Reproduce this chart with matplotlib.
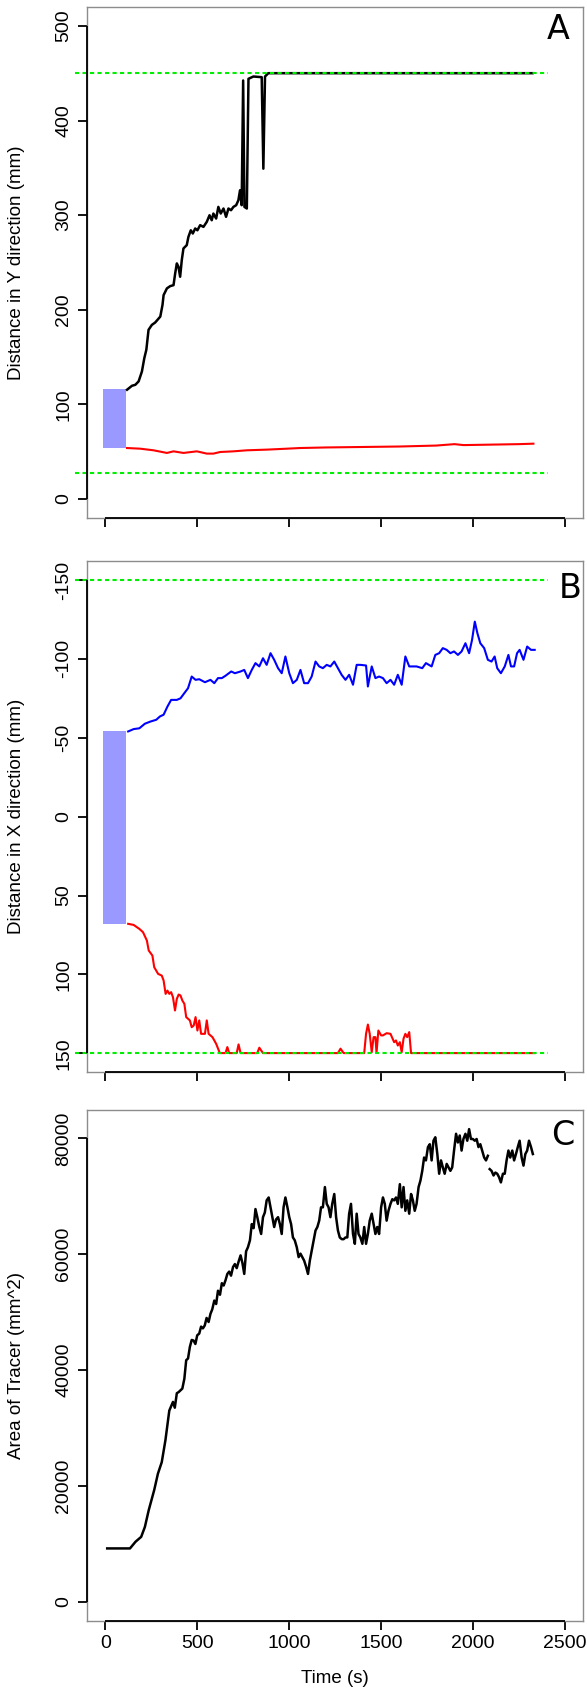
import matplotlib.pyplot as plt
import numpy as np

plt.rcParams['font.family'] = ['Liberation Sans', 'DejaVu Sans']
plt.rcParams['axes.unicode_minus'] = False

time_ticks = [0, 500, 1000, 1500, 2000, 2500]

# Panel A - distance in Y direction
a_black_t = [118, 145, 163, 181, 199, 212, 223, 235, 253, 271, 299, 311, 317, 335, 353, 371, 380, 389,
             398, 407, 416, 425, 443, 452, 465, 476, 489, 501, 516, 534, 552, 567, 579, 588, 603, 615,
             628, 643, 657, 670, 684, 697, 712, 724, 733, 742, 750, 757, 770, 779, 806, 851, 860, 869,
             887, 2325]
a_black_v = [115.5, 119.7, 120.7, 124.3, 134.8, 148.9, 157.7, 178.8, 184, 186.5, 192.8, 205.1, 215.5,
             222.6, 225, 226, 238.4, 249, 245.4, 234.9, 252.5, 264.8, 268.3, 277, 284, 280.6, 285.9,
             284, 289.4, 287.6, 292.9, 299.9, 294.6, 301.7, 296.4, 308.7, 301.7, 307, 298.2, 307,
             305.2, 308.7, 310.5, 315.7, 326.3, 310.5, 442.3, 308.7, 307, 444.1, 446.5, 445.8, 349.1,
             446.5, 450, 450]
a_red_t = [118, 190, 262, 335, 371, 425, 498, 552, 588, 625, 697, 770, 878, 987, 1059, 1200, 1400,
           1600, 1800, 1900, 1950, 2100, 2250, 2330]
a_red_v = [53.9, 53.2, 51.5, 48.7, 50.4, 48.7, 50.4, 48, 48, 49.7, 50.4, 51.5, 52.2, 53.2, 53.9, 54.5,
           55, 55.5, 56.5, 58, 57, 57.5, 58, 58.5]
a_limits = [27.5, 450]

# Panel B - distance in X direction
b_blue_t = [124, 154, 185, 215, 246, 277, 297, 317, 338, 358, 389, 409, 430, 450, 470, 491, 511, 542,
            572, 593, 613, 634, 654, 685, 705, 736, 756, 776, 797, 817, 838, 858, 878, 899, 919, 940,
            960, 980, 1001, 1021, 1042, 1062, 1082, 1103, 1123, 1144, 1164, 1184, 1205, 1225, 1246,
            1266, 1286, 1307, 1327, 1348, 1368, 1388, 1419, 1429, 1450, 1470, 1490, 1511, 1531, 1552,
            1572, 1592, 1613, 1633, 1654, 1674, 1694, 1725, 1745, 1776, 1796, 1817, 1837, 1858, 1878,
            1898, 1919, 1939, 1960, 1980, 1996, 2011, 2025, 2041, 2062, 2082, 2102, 2119, 2133, 2153,
            2174, 2194, 2208, 2225, 2241, 2255, 2276, 2296, 2317, 2337]
b_blue_v = [-54, -55.5, -56, -58.9, -60.3, -61.4, -63.5, -64.6, -69.8, -74, -74, -75, -78.3, -81.4,
            -88.8, -86.7, -87.1, -85.2, -86.7, -84.6, -87.8, -87.8, -89.3, -92, -90.9, -92, -93,
            -87.8, -93, -97.3, -95.2, -100.4, -96.2, -103.6, -99.4, -94.1, -90.9, -101.5, -90.9,
            -84.6, -86.7, -93, -84.6, -84.6, -88.8, -98.3, -95.2, -94.1, -96.2, -95.2, -98.3, -94.1,
            -89.9, -86.7, -89.9, -83.6, -96.2, -96.2, -95.8, -82.5, -95.2, -87.8, -88.8, -87.8, -84.6,
            -86.7, -83.6, -89.9, -83.6, -101.5, -95.2, -95.2, -95.2, -94.1, -97.3, -95.2, -102.5,
            -103.6, -106.8, -105.7, -103.6, -104.7, -102.5, -104.7, -109.9, -103.6, -112, -123.6,
            -116.3, -109.9, -106.8, -99.4, -98.3, -101.5, -94.1, -90.9, -95.2, -102.5, -95.2, -95.2,
            -103.6, -105.7, -99.4, -107.8, -105.7, -105.7]
b_red_t = [124, 154, 185, 205, 226, 236, 256, 266, 287, 307, 317, 328, 338, 348, 358, 368, 379, 389,
           399, 409, 419, 430, 440, 460, 470, 481, 491, 501, 511, 521, 542, 552, 562, 583, 603, 623,
           654, 664, 674, 715, 725, 736, 827, 838, 858, 1266, 1280, 1297, 1409, 1419, 1429, 1439,
           1450, 1460, 1470, 1476, 1486, 1501, 1511, 1531, 1552, 1572, 1582, 1592, 1603, 1613, 1623,
           1633, 1643, 1654, 1664, 2337]
b_red_v = [67.9, 68.6, 71.1, 73.2, 78.5, 84.8, 88, 95.4, 99.6, 100.7, 103.8, 112.3, 110.2, 112.3,
           111.2, 114.4, 122.8, 115.4, 112.7, 113.3, 116.5, 118.6, 127, 129.1, 133.4, 132.3, 127,
           135.5, 129.1, 137.6, 137.6, 129.1, 137.6, 139.7, 143.9, 149.8, 149.8, 146, 149.8, 149.8,
           144.3, 149.8, 149.8, 146.4, 149.8, 149.8, 147, 149.8, 149.8, 137.6, 131.7, 137.6, 149.2,
           139.7, 139.7, 149.8, 135.5, 138.6, 138.6, 137.2, 137.6, 142.9, 141.8, 145, 142.9, 149.2,
           140.7, 137.6, 139.7, 136.5, 149.8, 149.8]
b_limits = [-150, 150]

# Panel C - tracer area (nan = missing frames)
c_t = [10, 134, 164, 195, 215, 236, 266, 286, 307, 327, 348, 368, 378, 389, 399, 419, 430, 440, 450,
       460, 470, 480, 490, 500, 511, 521, 531, 541, 551, 562, 572, 582, 593, 603, 613, 624, 634, 644,
       654, 664, 674, 684, 695, 705, 715, 726, 736, 746, 756, 766, 776, 787, 797, 807, 817, 827, 838,
       848, 858, 868, 878, 889, 899, 909, 919, 929, 940, 950, 960, 970, 980, 991, 1001, 1011, 1021,
       1031, 1042, 1052, 1062, 1072, 1082, 1093, 1103, 1113, 1123, 1133, 1144, 1154, 1164, 1174,
       1184, 1195, 1205, 1215, 1225, 1235, 1246, 1256, 1266, 1276, 1287, 1297, 1307, 1317, 1327,
       1337, 1348, 1358, 1368, 1378, 1388, 1399, 1409, 1419, 1429, 1439, 1450, 1460, 1470, 1480,
       1490, 1501, 1511, 1521, 1531, 1541, 1552, 1562, 1572, 1582, 1592, 1603, 1613, 1623, 1633,
       1643, 1654, 1664, 1674, 1684, 1694, 1705, 1715, 1725, 1735, 1745, 1756, 1766, 1776, 1786,
       1796, 1807, 1817, 1827, 1837, 1847, 1858, 1868, 1878, 1888, 1898, 1909, 1919, 1929, 1939,
       1949, 1960, 1970, 1980, 1990, 2000, 2011, 2021, 2031, 2041, 2051, 2062, 2072, 2082, 2087,
       2092, 2102, 2113, 2123, 2133, 2143, 2153, 2164, 2174, 2184, 2194, 2204, 2215, 2225, 2235,
       2245, 2255, 2266, 2276, 2286, 2296, 2306, 2317, 2327]
c_area = [9200, 9200, 10350, 11200, 12900, 15800, 19300, 22100, 24100, 27900, 33000, 34500, 33500,
          36000, 36200, 36800, 38500, 41700, 42000, 44000, 45200, 45100, 44500, 46000, 46300, 47500,
          47200, 47700, 49000, 48300, 49700, 50500, 52000, 51400, 53700, 53000, 55000, 54600, 55500,
          56600, 57000, 56300, 57800, 58300, 57600, 58800, 59800, 58500, 56600, 60500, 61200, 62400,
          65200, 64500, 67800, 66400, 64700, 63500, 66400, 67200, 69300, 69800, 68100, 66400, 64700,
          66000, 66400, 65200, 63500, 68100, 69800, 68100, 66400, 65200, 62900, 62400, 61200, 59500,
          60100, 59500, 58900, 57800, 56600, 58900, 60600, 62400, 64100, 64700, 65800, 68100, 68100,
          71600, 68700, 68100, 66400, 68700, 70400, 66400, 64100, 62900, 62600, 62600, 62900, 62900,
          67000, 68700, 63500, 61800, 67000, 63500, 62900, 61800, 64700, 61800, 63500, 65800, 67000,
          65200, 63500, 64700, 63500, 68100, 69800, 68700, 65800, 67500, 68700, 69500, 69300, 69800,
          68700, 72100, 68100, 71600, 67500, 69300, 67000, 70400, 69300, 67500, 68700, 71600, 72700,
          74400, 76700, 76200, 78500, 79000, 76200, 79600, 80200, 77300, 73900, 76200, 75000, 73900,
          75600, 75000, 74400, 75000, 77900, 80800, 79300, 80500, 77900, 79900, 80800, 79600, 81600,
          79900, 79900, 79600, 79900, 78500, 79000, 77900, 76700, 76200, 77000, np.nan, 74700,
          74400, 73600, 74100, 73900, 73300, 72400, 73900, 73900, 76200, 77900, 76700, 77900, 76200,
          77300, 78500, 79600, 76700, 75300, 77300, 77900, 79600, 78500, 77300]

green = '#00ee00'
patch_blue = '#9999ff'

fig = plt.figure(figsize=(5.87, 16.96), dpi=100)
axA = fig.add_axes([0.1482, 0.6946, 0.845, 0.3013])
axB = fig.add_axes([0.1482, 0.3681, 0.845, 0.3013])
axC = fig.add_axes([0.1482, 0.0444, 0.845, 0.3011])


def style(ax, yticks, ylabel, letter, lx, ly, xlabels=False):
    ax.set_xlim(-100, 2600)
    ax.set_xticks(time_ticks)
    ax.set_yticks(yticks)
    for s in ax.spines.values():
        s.set_color('#8c8c8c')
        s.set_linewidth(1)
    ax.tick_params(direction='out', length=6.5, width=1.3, colors='black', labelsize=14, pad=4)
    ax.tick_params(axis='y', pad=4)
    for lbl in ax.get_yticklabels():
        lbl.set_rotation(90)
        lbl.set_va('center')
    if not xlabels:
        ax.set_xticklabels([])
    # black axis lines between first and last tick
    ax.plot([0, 0], [yticks[0], yticks[-1]], transform=ax.get_yaxis_transform(),
            color='black', lw=1.3, clip_on=False, solid_capstyle='butt', zorder=5)
    ax.plot([time_ticks[0], time_ticks[-1]], [0, 0], transform=ax.get_xaxis_transform(),
            color='black', lw=1.3, clip_on=False, solid_capstyle='butt', zorder=5)
    ax.set_ylabel(ylabel, fontsize=13.5)
    ax.yaxis.set_label_coords(-0.125, 0.5)
    ax.text(lx, ly, letter, transform=ax.transAxes, fontsize=24, family='DejaVu Sans',
            ha='center', va='center')


# A
axA.add_patch(plt.Rectangle((-15, 53.4), 127, 62.6, color=patch_blue, lw=0, zorder=1))
axA.plot(a_black_t, a_black_v, color='black', lw=1.8, zorder=2)
axA.plot(a_red_t, a_red_v, color='red', lw=1.5, zorder=2)
for yv in a_limits:
    axA.plot([-165, 2410], [yv, yv], color=green, lw=1.5, ls=(0, (2, 1.6)), clip_on=False, zorder=3)
axA.set_ylim(-20, 520)
style(axA, [0, 100, 200, 300, 400, 500], 'Distance in Y direction (mm)', 'A', 0.950, 0.955)

# B
axB.add_patch(plt.Rectangle((-15, -54), 127, 122, color=patch_blue, lw=0, zorder=1))
axB.plot(b_blue_t, b_blue_v, color='blue', lw=1.5, zorder=2)
axB.plot(b_red_t, b_red_v, color='red', lw=1.5, zorder=2)
for yv in b_limits:
    axB.plot([-165, 2410], [yv, yv], color=green, lw=1.5, ls=(0, (2, 1.6)), clip_on=False, zorder=3)
axB.set_ylim(161.6, -162.2)
style(axB, [-150, -100, -50, 0, 50, 100, 150], 'Distance in X direction (mm)', 'B', 0.974, 0.945)

# C
axC.plot(c_t, c_area, color='black', lw=1.8)
axC.set_ylim(-3280, 84900)
style(axC, [0, 20000, 40000, 60000, 80000], 'Area of Tracer (mm^2)', 'C', 0.959, 0.951, xlabels=True)
axC.set_xlabel('Time (s)', fontsize=13.5, labelpad=13)

fig.savefig('out.png', dpi=100)
